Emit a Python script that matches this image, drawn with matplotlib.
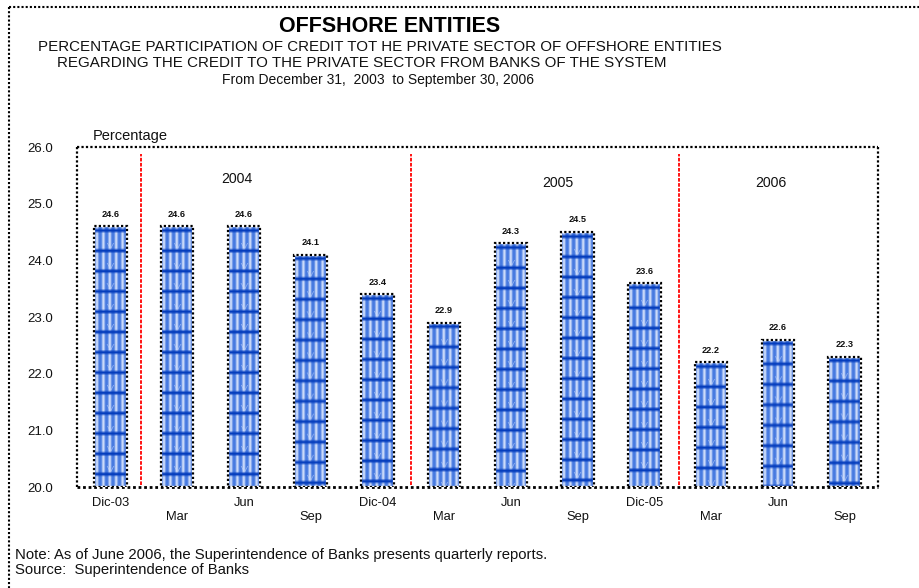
import numpy as np
import matplotlib
matplotlib.use("Agg")
import matplotlib.pyplot as plt
from matplotlib.lines import Line2D

plt.rcParams['font.family'] = ['Liberation Sans', 'DejaVu Sans']

# Data
periods = ["Dic-03", "Mar", "Jun", "Sep", "Dic-04", "Mar", "Jun", "Sep",
           "Dic-05", "Mar", "Jun", "Sep"]
values = [24.6, 24.6, 24.6, 24.1, 23.4, 22.9, 24.3, 24.5, 23.6, 22.2, 22.6, 22.3]
years = ["2004", "2005", "2006"]
year_label_x = [1.9, 6.7, 9.9]
year_label_y = [25.44, 25.37, 25.37]
year_breaks = [0.46, 4.5, 8.52]
y_ticks = [20.0, 21.0, 22.0, 23.0, 24.0, 25.0, 26.0]

W, H, DPI = 920, 588, 100
fig = plt.figure(figsize=(W / DPI, H / DPI), dpi=DPI)
ax = fig.add_axes([77 / W, (H - 487) / H, 801 / W, 340 / H])
ax.set_xlim(-0.5, 11.5)
ax.set_ylim(20, 26)

DOT = (0, (1, 1))

# Bars: the base bars carry the geometry for the texture and outlines
x = np.arange(len(values))
heights = np.array(values) - 20
base_bars = ax.bar(x, heights, bottom=20, width=0.49, color='none',
                   edgecolor='white', linewidth=1.6, zorder=3)
dotted_bars = ax.bar(x, heights, bottom=20, width=0.49, color='none',
                     edgecolor='black', linewidth=1.6, linestyle=DOT, zorder=4)
for p in dotted_bars.patches:
    p.set_capstyle('butt')

px_per_x = 801 / 12.0
px_per_y = 340 / 6.0


def bar_texture(w, h):
    """Blue fill with soft vertical light stripes and dark horizontal bands."""
    cols = np.arange(w)
    rows = np.arange(h)
    base = np.array([0.28, 0.48, 0.88])
    light = np.array([0.80, 0.86, 0.98])
    dark = np.array([0.02, 0.24, 0.74])
    s = (0.5 + 0.5 * np.cos(2 * np.pi * (cols - 2.5) / 6.4)) ** 1.6
    img = base[None, :] * (1 - s[:, None]) + light[None, :] * s[:, None]
    img = np.repeat(img[None, :, :], h, axis=0)
    period = 20.3
    d = (rows - 4.0) % period
    dd = np.minimum(d, period - d)
    b = np.clip(1.15 - dd / 2.4, 0, 1)
    # faint arch just above each band at the bar centre
    cx = (w - 1) / 2.0
    arch = np.zeros((h, w))
    up = period - d
    for r in range(h):
        if 2.0 < up[r] < 8.0:
            arch[r, :] = np.clip(1 - np.abs(np.abs(cols - cx) - (up[r] - 2.0) * 0.55), 0, 1) * 0.5
    img = img * (1 - arch[:, :, None]) + light[None, None, :] * arch[:, :, None]
    img = img * (1 - b[:, None, None]) + dark[None, None, :] * b[:, None, None]
    return np.clip(img, 0, 1)


for rect in base_bars.patches:
    x0, y0 = rect.get_x(), rect.get_y()
    w, h = rect.get_width(), rect.get_height()
    wp = max(2, int(round(w * px_per_x)))
    hp = max(2, int(round(h * px_per_y)))
    ax.imshow(bar_texture(wp, hp), extent=[x0, x0 + w, y0, y0 + h],
              origin='upper', aspect='auto', interpolation='bilinear', zorder=2)

# Value labels
for xi, v in zip(x, values):
    ax.text(xi, v + 12 / px_per_y, f"{v:.1f}", ha='center', va='center',
            fontsize=6.6, fontweight='bold', color='#111111', zorder=5)

# Year separators and labels
ax.vlines(year_breaks, 20.04, 25.88, colors='#ff0000', linewidth=1.3,
          linestyles=(0, (2, 0.8)), zorder=1)
for yx, yy, yl in zip(year_label_x, year_label_y, years):
    ax.text(yx, yy, yl, ha='center', va='center', fontsize=10.2, color='#111111')

ax.set_xlim(-0.5, 11.5)
ax.set_ylim(20, 26)

# Axes styling
for side, sp in ax.spines.items():
    sp.set_linestyle(DOT)
    sp.set_linewidth(2.0 if side == 'bottom' else 1.6)
    sp.set_color('black')
    sp.set_capstyle('butt')

ax.set_xticks(x)
ax.set_xticklabels([p if i % 2 == 0 else "\n" + p for i, p in enumerate(periods)],
                   fontsize=9.3, color='#111111', linespacing=1.25)
ax.set_yticks(y_ticks)
ax.set_yticklabels([f"{t:.1f}" for t in y_ticks], fontsize=9.5, color='#111111')
ax.tick_params(axis='x', length=0, pad=7)
ax.tick_params(axis='y', length=0, pad=17)

# Titles and notes
fig.text(390 / W, 1 - 27 / H, "OFFSHORE ENTITIES", ha='center', va='center',
         fontsize=15.5, fontweight='bold', color='black')
fig.text(380 / W, 1 - 47 / H,
         "PERCENTAGE PARTICIPATION OF CREDIT TOT HE PRIVATE SECTOR OF OFFSHORE ENTITIES",
         ha='center', va='center', fontsize=10.9, color='#111111')
fig.text(362 / W, 1 - 63 / H,
         "REGARDING THE CREDIT TO THE PRIVATE SECTOR FROM BANKS OF THE SYSTEM",
         ha='center', va='center', fontsize=10.9, color='#111111')
fig.text(378 / W, 1 - 80 / H, "From December 31,  2003  to September 30, 2006",
         ha='center', va='center', fontsize=10, color='#111111')
fig.text(93 / W, 1 - 136 / H, "Percentage", ha='left', va='center',
         fontsize=10.5, color='#111111')
fig.text(15 / W, 1 - 555 / H,
         "Note: As of June 2006, the Superintendence of Banks presents quarterly reports.",
         ha='left', va='center', fontsize=10.7, color='#111111')
fig.text(15 / W, 1 - 570 / H, "Source:  Superintendence of Banks",
         ha='left', va='center', fontsize=10.7, color='#111111')

# Dotted page frame
for xs, ys in (([9 / W, 1.01], [1 - 7 / H, 1 - 7 / H]),
               ([9 / W, 9 / W], [1 - 7 / H, -0.01])):
    fig.add_artist(Line2D(xs, ys, color='black', linewidth=1.5,
                          linestyle=DOT, solid_capstyle='butt',
                          dash_capstyle='butt'))

fig.savefig("out.png", dpi=DPI)
